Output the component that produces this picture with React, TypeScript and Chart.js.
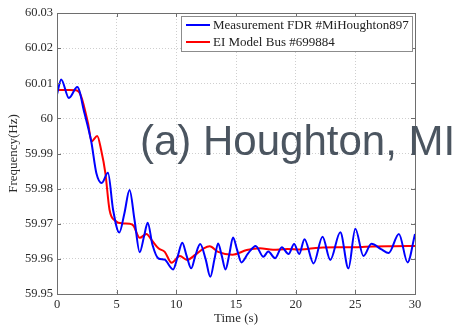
import React, { useEffect, useRef } from 'react';
import { Chart, registerables } from 'chart.js';

Chart.register(...registerables);

// ---- data ----
const blueTime = [
  0, 0.35, 1.0, 1.7, 2.3, 2.87, 3.3, 3.75, 4.27, 4.7, 5.22, 5.65, 6.08, 6.5, 6.93, 7.3, 7.6, 8.0, 8.5, 9.0,
  9.73, 10.1, 10.5, 10.85, 11.25, 11.6, 12.0, 12.45, 12.85, 13.2, 13.5, 13.8, 14.12, 14.45, 14.75, 15.1,
  15.45, 16.0, 16.65, 17.3, 17.7, 18.28, 18.84, 19.4, 19.87, 20.3, 20.74, 21.5, 22.25, 22.9, 23.74, 24.42,
  25.0, 25.68, 26.35, 27.15, 27.8, 28.65, 29.38, 30.0,
];
const blueFreq = [
  60.0068, 60.0111, 60.0058, 60.0089, 60.0015, 59.9934, 59.9844, 59.9816, 59.9845, 59.974, 59.9675, 59.973,
  59.9796, 59.971, 59.9619, 59.9665, 59.9703, 59.964, 59.9601, 59.9598, 59.957, 59.9605, 59.9646, 59.961,
  59.9573, 59.961, 59.9642, 59.96, 59.9549, 59.96, 59.9644, 59.961, 59.957, 59.9615, 59.9661, 59.9625,
  59.959, 59.9615, 59.9637, 59.9606, 59.9621, 59.9602, 59.9633, 59.9614, 59.9642, 59.9614, 59.9656, 59.9587,
  59.9663, 59.9597, 59.9676, 59.9573, 59.9686, 59.9608, 59.9643, 59.9628, 59.9617, 59.9671, 59.959, 59.9671,
];
const redTime = [
  0, 1.0, 1.6, 2.0, 2.6, 2.9, 3.37, 3.7, 4.05, 4.4, 4.9, 5.5, 6.1, 6.4, 6.93, 7.5, 7.9, 8.5, 9.03, 9.6,
  10.3, 10.9, 11.6, 12.3, 12.8, 13.5, 14.7, 15.9, 17.0, 18.1, 19.3, 20.4, 22.0, 24.3, 26.5, 28.2, 30.0,
];
const redFreq = [
  60.0081, 60.0081, 60.008, 60.0065, 59.9986, 59.9935, 59.995, 59.991, 59.9845, 59.974, 59.9708, 59.9701,
  59.97, 59.9695, 59.966, 59.9671, 59.9655, 59.963, 59.962, 59.9589, 59.9608, 59.9597, 59.9612, 59.963,
  59.9636, 59.962, 59.9612, 59.9625, 59.963, 59.9626, 59.9628, 59.9627, 59.9632, 59.9633, 59.9635,
  59.9636, 59.9637,
];
const seriesNames = ['Measurement FDR #MiHoughton897', 'EI Model Bus #699884'];
const xTicks = [0, 5, 10, 15, 20, 25, 30];
const yTicks = [59.95, 59.96, 59.97, 59.98, 59.99, 60, 60.01, 60.02, 60.03];
const yTickLabels = ['59.95', '59.96', '59.97', '59.98', '59.99', '60', '60.01', '60.02', '60.03'];
const overlayText = '(a) Houghton, MI';
const xTitle = 'Time (s)';
const yTitle = 'Frequency(Hz)';

const SERIF = '"Liberation Serif", "Times New Roman", serif';
const FRAME = '#6e6e6e';

const framePlugin = {
  id: 'frameLegendOverlay',
  afterDraw(chart: any) {
    const { ctx, chartArea: a, scales } = chart;
    ctx.save();
    // inward tick marks
    ctx.strokeStyle = FRAME;
    ctx.lineWidth = 1;
    ctx.beginPath();
    xTicks.forEach((v) => {
      const px = Math.round(scales.x.getPixelForValue(v)) + 0.5;
      ctx.moveTo(px, a.bottom);
      ctx.lineTo(px, a.bottom - 4);
      ctx.moveTo(px, a.top);
      ctx.lineTo(px, a.top + 4);
    });
    yTicks.forEach((v) => {
      const py = Math.round(scales.y.getPixelForValue(v)) + 0.5;
      ctx.moveTo(a.left, py);
      ctx.lineTo(a.left + 4, py);
      ctx.moveTo(a.right, py);
      ctx.lineTo(a.right - 4, py);
    });
    ctx.stroke();
    // frame
    ctx.strokeStyle = FRAME;
    ctx.strokeRect(Math.round(a.left) + 0.5, Math.round(a.top) + 0.5, Math.round(a.right - a.left), Math.round(a.bottom - a.top));

    // legend box
    const lx = 181.5, ly = 16.5, lw = 231, lh = 35;
    ctx.fillStyle = '#ffffff';
    ctx.fillRect(lx, ly, lw, lh);
    ctx.strokeStyle = '#8c8c8c';
    ctx.strokeRect(lx, ly, lw, lh);
    const rows = [25, 42];
    chart.data.datasets.forEach((ds: any, i: number) => {
      ctx.strokeStyle = ds.borderColor;
      ctx.lineWidth = 2;
      ctx.beginPath();
      ctx.moveTo(186, rows[i]);
      ctx.lineTo(210, rows[i]);
      ctx.stroke();
      ctx.fillStyle = '#222222';
      ctx.font = '13px ' + SERIF;
      ctx.textBaseline = 'middle';
      ctx.textAlign = 'left';
      ctx.fillText(ds.label, 213, rows[i] + 0.5);
    });

    // overlay caption
    ctx.font = '42px "Liberation Sans", Arial, sans-serif';
    ctx.fillStyle = '#4b5560';
    ctx.textBaseline = 'alphabetic';
    ctx.textAlign = 'left';
    ctx.fillText(overlayText, 140, 155);
    ctx.restore();
  },
};

export default function App() {
  const ref = useRef<HTMLCanvasElement>(null);
  useEffect(() => {
    const blue = blueTime.map((t, i) => ({ x: t, y: blueFreq[i] }));
    const red = redTime.map((t, i) => ({ x: t, y: redFreq[i] }));
    const chart = new Chart(ref.current as HTMLCanvasElement, {
      type: 'line',
      data: {
        datasets: [
          {
            label: seriesNames[0],
            data: blue,
            borderColor: '#0000ff',
            borderWidth: 2,
            pointRadius: 0,
            cubicInterpolationMode: 'monotone',
            fill: false,
          },
          {
            label: seriesNames[1],
            data: red,
            borderColor: '#ff0000',
            borderWidth: 2,
            pointRadius: 0,
            cubicInterpolationMode: 'monotone',
            fill: false,
          },
        ],
      },
      options: {
        animation: false,
        responsive: false,
        events: [],
        layout: { padding: { top: 13, right: 46, left: 0, bottom: 0 } },
        plugins: { legend: { display: false }, tooltip: { enabled: false } },
        scales: {
          x: {
            type: 'linear',
            min: 0,
            max: 30,
            afterBuildTicks: (s: any) => {
              s.ticks = xTicks.map((v) => ({ value: v }));
            },
            afterFit: (s: any) => {
              s.height = 34;
            },
            grid: { color: '#cfcfcf', lineWidth: 1, drawTicks: false },
            border: { display: false, dash: [1, 2] },
            ticks: {
              padding: 3,
              color: '#2b2b2b',
              font: { family: SERIF, size: 12.5 },
              maxRotation: 0,
              callback: (v: any) => String(v),
            },
            title: {
              display: true,
              text: xTitle,
              color: '#2b2b2b',
              font: { family: SERIF, size: 13 },
              padding: { top: 0, bottom: 2 },
            },
          },
          y: {
            type: 'linear',
            min: 59.95,
            max: 60.03,
            afterBuildTicks: (s: any) => {
              s.ticks = yTicks.map((v) => ({ value: v }));
            },
            afterFit: (s: any) => {
              s.width = 57;
            },
            grid: { color: '#cfcfcf', lineWidth: 1, drawTicks: false },
            border: { display: false, dash: [1, 2] },
            ticks: {
              padding: 4,
              color: '#2b2b2b',
              font: { family: SERIF, size: 12.5 },
              callback: (_v: any, i: number) => yTickLabels[i],
            },
            title: {
              display: true,
              text: yTitle,
              color: '#2b2b2b',
              font: { family: SERIF, size: 13 },
              padding: { top: 6, bottom: 0 },
            },
          },
        },
      },
      plugins: [framePlugin],
    } as any);
    return () => chart.destroy();
  }, []);
  return (
    <div style={{ position: 'absolute', left: 0, top: 0, width: 461, height: 328, background: '#fff' }}>
      <canvas ref={ref} width={461} height={328} style={{ display: 'block', width: 461, height: 328 }} />
    </div>
  );
}
